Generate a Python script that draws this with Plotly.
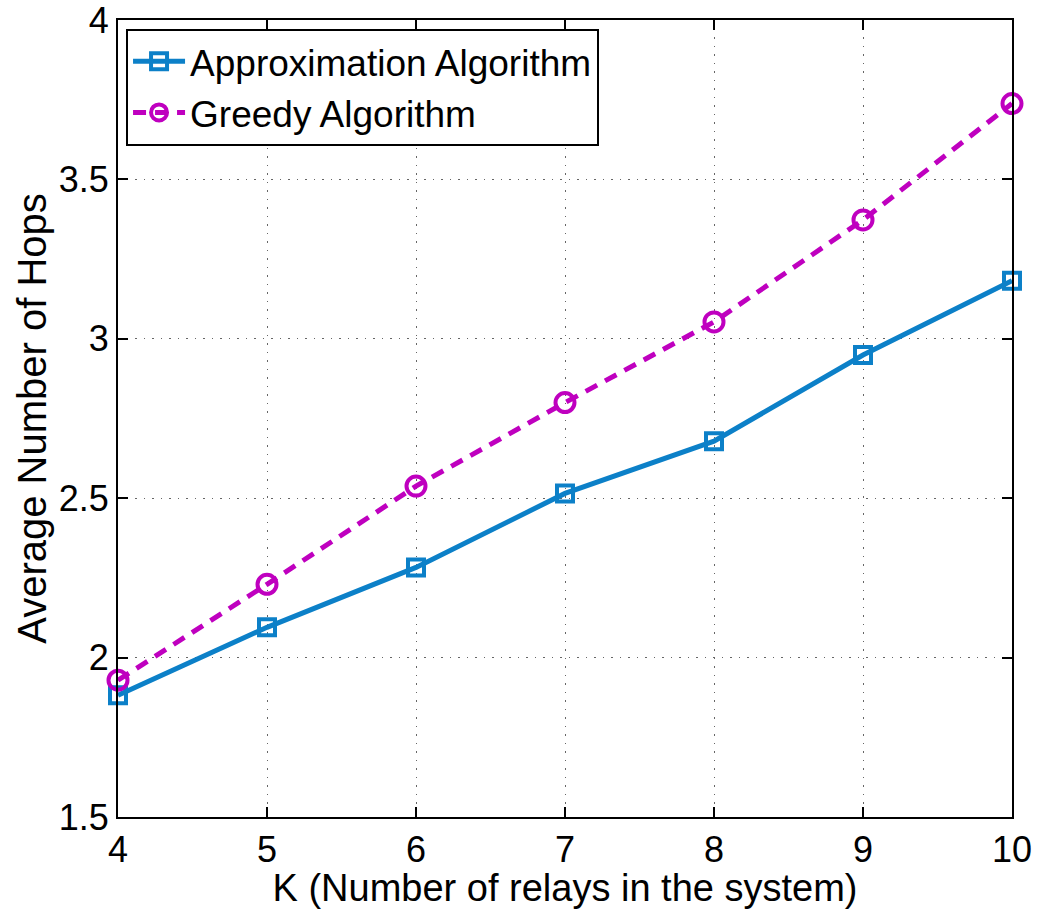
import plotly.graph_objects as go

# Number of relays K
relays = [4, 5, 6, 7, 8, 9, 10]

# Average number of hops per algorithm
approx_hops = [1.882, 2.095, 2.283, 2.515, 2.679, 2.949, 3.182]
greedy_hops = [1.929, 2.230, 2.538, 2.800, 3.053, 3.373, 3.738]

x_ticks = [4, 5, 6, 7, 8, 9, 10]
y_ticks = [1.5, 2, 2.5, 3, 3.5, 4]
y_tick_text = ["1.5", "2", "2.5", "3", "3.5", "4"]

BLUE = "#0C80C8"
MAGENTA = "#BF00BF"
FONT = "Liberation Sans, Arial, sans-serif"

fig = go.Figure()

fig.add_trace(go.Scatter(
    x=relays, y=approx_hops, mode="lines+markers",
    name="Approximation Algorithm",
    line=dict(color=BLUE, width=5),
    marker=dict(symbol="square-open", size=16, color=BLUE,
                line=dict(color=BLUE, width=4)),
    cliponaxis=False,
))

fig.add_trace(go.Scatter(
    x=relays, y=greedy_hops, mode="lines+markers",
    name="Greedy Algorithm",
    line=dict(color=MAGENTA, width=5, dash="13px,9px"),
    marker=dict(symbol="circle-open", size=19, color=MAGENTA,
                line=dict(color=MAGENTA, width=4)),
    cliponaxis=False,
))

axis_common = dict(
    showline=True, linecolor="black", linewidth=2,
    mirror="ticks", ticks="inside", ticklen=10, tickwidth=2,
    tickcolor="black",
    showgrid=True, gridcolor="#666666", gridwidth=1, griddash="1.5px,7px",
    zeroline=False, automargin=False, ticklabeloverflow="allow",
    tickfont=dict(family=FONT, size=36, color="black"),
)

fig.update_xaxes(
    range=[4, 10], tickvals=x_ticks,
    title=dict(text="K (Number of relays in the system)",
               font=dict(family=FONT, size=38, color="black"), standoff=4),
    **axis_common,
)
fig.update_yaxes(
    range=[1.5, 4], tickvals=y_ticks, ticktext=y_tick_text,
    title=dict(text="Average Number of Hops",
               font=dict(family=FONT, size=40, color="black"), standoff=0),
    **axis_common,
)

fig.update_layout(
    width=1039, height=909,
    margin=dict(l=118, r=27, t=20, b=92),
    paper_bgcolor="white", plot_bgcolor="white",
    font=dict(family=FONT, color="black"),
    showlegend=True,
    legend=dict(
        x=0.009, y=0.989, xanchor="left", yanchor="top",
        bgcolor="white", bordercolor="black", borderwidth=2,
        font=dict(family=FONT, size=37, color="black"),
        tracegroupgap=0, itemwidth=52,
    ),
)

fig.write_html("out.html")
